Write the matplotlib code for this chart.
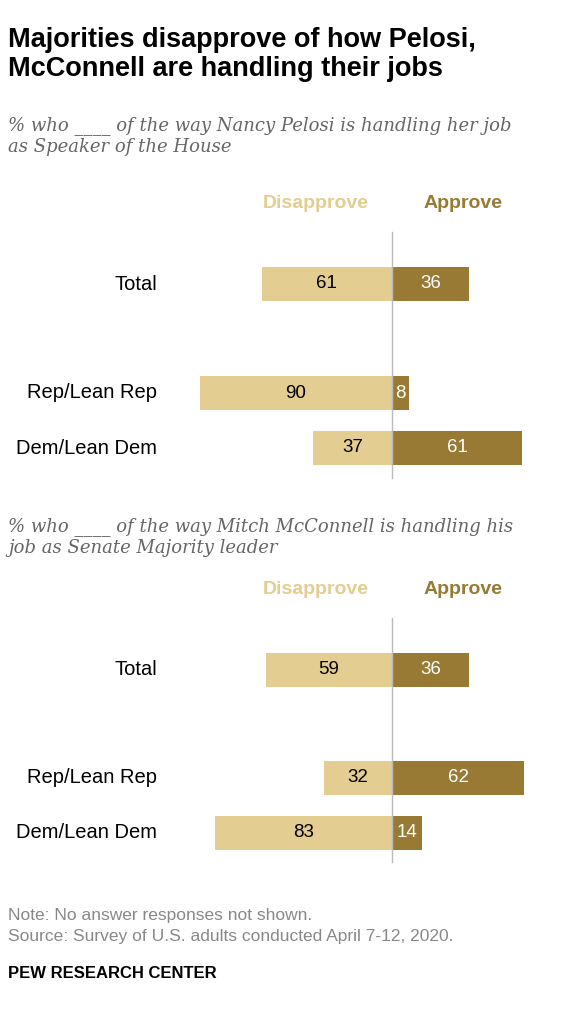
import matplotlib
matplotlib.use("Agg")
import matplotlib.pyplot as plt

groups = ["Total", "Rep/Lean Rep", "Dem/Lean Dem"]
pelosi_dis = [61, 90, 37]
pelosi_app = [36, 8, 61]
mcc_dis = [59, 32, 83]
mcc_app = [36, 62, 14]

W, H = 577, 1023
C_DIS = "#E3CD90"
C_APP = "#987A34"
plt.rcParams['font.family'] = ['Liberation Sans', 'DejaVu Sans']

fig = plt.figure(figsize=(W/100, H/100), dpi=100)

def panel(top, bottom, ypos, dis, app, head_y, sub_y, sub):
    ax = fig.add_axes([0, 1-bottom/H, 1, (bottom-top)/H])
    ax.set_xlim(-392/2.135, (W-392)/2.135)
    ax.set_ylim(bottom, top)
    ax.axis('off')
    ax.barh(ypos, [-d for d in dis], height=34, color=C_DIS)
    ax.barh(ypos, app, height=34, color=C_APP)
    ax.plot([0, 0], [top+2, bottom-2], color="#BBBBBB", lw=1)
    for y, d, a, g in zip(ypos, dis, app, groups):
        ax.text(-d/2, y, str(d), ha='center', va='center', fontsize=13.5)
        ax.text(3.8 if a < 10 else a/2, y, str(a), ha='center', va='center',
                fontsize=13.5, color='white')
        ax.text(-110, y, g, ha='right', va='center', fontsize=14.5)
    fig.text(316/W, 1-head_y/H, "Disapprove", color=C_DIS, fontsize=14,
             fontweight='bold', ha='center', va='center')
    fig.text(463/W, 1-head_y/H, "Approve", color=C_APP, fontsize=14,
             fontweight='bold', ha='center', va='center')
    fig.text(8/W, 1-sub_y/H, sub, fontsize=13, style='italic', color='#666666',
             family=['DejaVu Serif'], va='top', linespacing=1.25)

fig.text(8/W, 1-27/H, "Majorities disapprove of how Pelosi,\nMcConnell are handling their jobs",
         fontsize=19.5, fontweight='bold', va='top', linespacing=1.15)
panel(230, 480, [284, 393, 448], pelosi_dis, pelosi_app, 204, 116,
      "% who ____ of the way Nancy Pelosi is handling her job\nas Speaker of the House")
panel(616, 864, [670, 778, 833], mcc_dis, mcc_app, 590, 517,
      "% who ____ of the way Mitch McConnell is handling his\njob as Senate Majority leader")
fig.text(8/W, 1-926/H, "Note: No answer responses not shown.\nSource: Survey of U.S. adults conducted April 7-12, 2020.",
         fontsize=12.5, color='#888888', va='center', linespacing=1.45)
fig.text(8/W, 1-974/H, "PEW RESEARCH CENTER", fontsize=12, fontweight='bold', va='center')
fig.savefig("out.png", dpi=100)
